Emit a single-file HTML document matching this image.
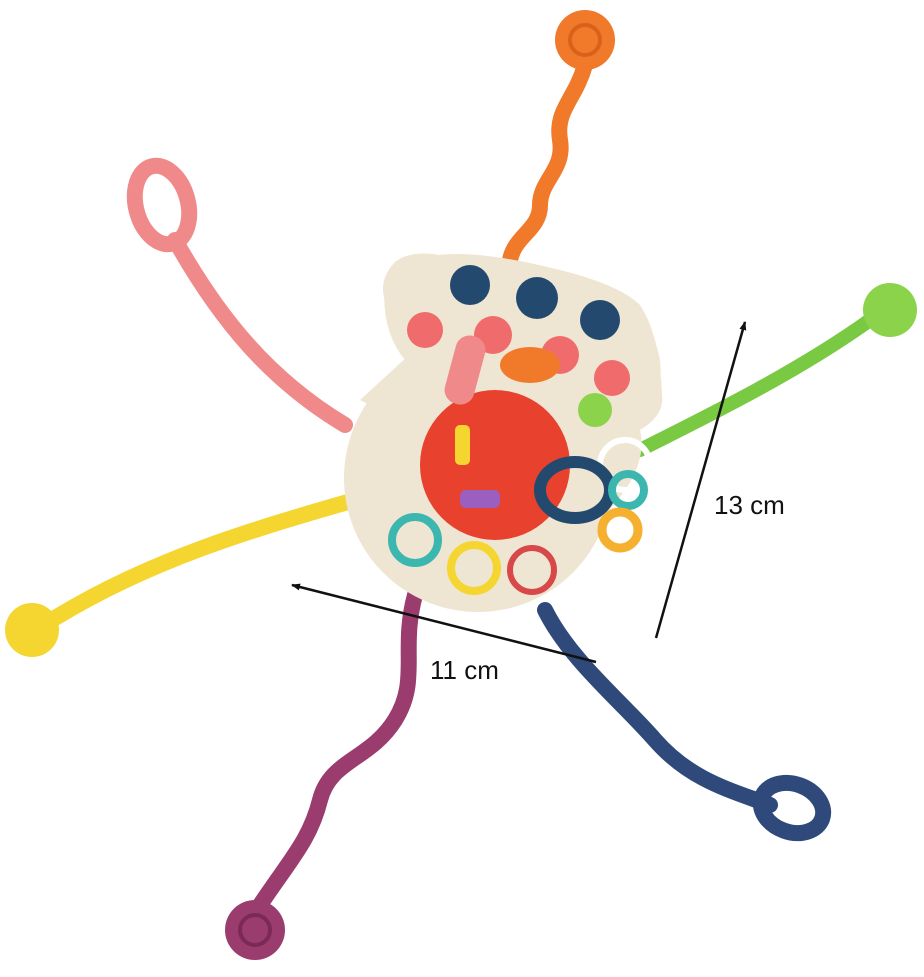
<!DOCTYPE html>
<html><head><meta charset="utf-8"><style>
html,body{margin:0;padding:0;background:#fff;width:924px;height:977px;overflow:hidden}
svg{display:block}
text{font-family:"Liberation Sans",sans-serif;font-size:26px;fill:#111}
</style></head><body>
<svg width="924" height="977" viewBox="0 0 924 977" xmlns="http://www.w3.org/2000/svg">
<defs>
<marker id="ah" markerWidth="9" markerHeight="7" refX="8" refY="3.5" orient="auto" markerUnits="userSpaceOnUse"><path d="M0,0 L9,3.5 L0,7 z" fill="#111"/></marker>
</defs>
<!-- orange strand -->
<path d="M585,65 C575,100 555,110 560,140 C565,170 540,180 540,205 C540,230 515,235 510,260" stroke="#f07a2a" stroke-width="16" fill="none" stroke-linecap="round"/>
<circle cx="585" cy="40" r="30" fill="#f07a2a"/><circle cx="585" cy="40" r="15" fill="none" stroke="#d9621a" stroke-width="4"/>
<!-- pink strand -->
<path d="M175,240 C220,320 270,380 345,425" stroke="#f08a8a" stroke-width="16" fill="none" stroke-linecap="round"/>
<ellipse cx="162" cy="205" rx="26" ry="40" fill="none" stroke="#f08a8a" stroke-width="16" transform="rotate(-15 162 205)"/>
<!-- green strand -->
<path d="M870,320 C800,370 720,410 640,450" stroke="#7ac943" stroke-width="14" fill="none" stroke-linecap="round"/>
<circle cx="890" cy="310" r="27" fill="#8bd34a"/>
<!-- yellow strand -->
<path d="M55,618 C150,560 250,530 355,500" stroke="#f5d630" stroke-width="16" fill="none" stroke-linecap="round"/>
<circle cx="32" cy="630" r="27" fill="#f5d630"/>
<!-- purple strand -->
<path d="M415,595 C400,650 420,680 395,720 C370,760 330,760 320,800 C310,840 290,860 260,905" stroke="#9a3c6e" stroke-width="16" fill="none" stroke-linecap="round"/>
<circle cx="255" cy="930" r="30" fill="#9a3c6e"/><circle cx="255" cy="930" r="15" fill="none" stroke="#7a2a55" stroke-width="4"/>
<!-- navy strand -->
<path d="M545,610 C570,660 620,700 655,740 C690,780 730,790 770,805" stroke="#2f4a7a" stroke-width="16" fill="none" stroke-linecap="round"/>
<ellipse cx="792" cy="808" rx="32" ry="24" fill="none" stroke="#2f4a7a" stroke-width="16" transform="rotate(20 792 808)"/>
<!-- body -->
<circle cx="478" cy="478" r="134" fill="#efe5d3"/>
<path d="M395,262 Q378,280 385,300 Q395,330 420,345 L360,400 L600,520 Q650,470 640,430 Q665,415 662,395 Q660,335 640,305 Q620,285 560,270 Q480,250 440,255 Q410,250 395,262 z" fill="#efe5d3"/>
<path d="M385,280 Q380,330 405,360 L620,440 Q665,420 660,360 Q650,310 620,295 Q560,262 470,255 Q410,250 385,280 z" fill="#efe5d3"/>
<circle cx="470" cy="285" r="20" fill="#234a6e"/><circle cx="537" cy="298" r="21" fill="#234a6e"/><circle cx="600" cy="320" r="20" fill="#234a6e"/>
<circle cx="425" cy="330" r="18" fill="#f06c6c"/><circle cx="493" cy="335" r="19" fill="#f06c6c"/><circle cx="560" cy="355" r="19" fill="#f06c6c"/><circle cx="612" cy="378" r="18" fill="#f06c6c"/>
<circle cx="495" cy="465" r="75" fill="#e8412d"/>
<rect x="450" y="335" width="30" height="70" rx="14" fill="#f08a8a" transform="rotate(15 465 370)"/>
<ellipse cx="530" cy="365" rx="30" ry="18" fill="#f07a2a"/>
<circle cx="595" cy="410" r="17" fill="#8bd34a"/>
<circle cx="625" cy="465" r="25" fill="none" stroke="#fff" stroke-width="6"/>
<ellipse cx="575" cy="490" rx="35" ry="28" fill="none" stroke="#234a6e" stroke-width="12"/>
<circle cx="628" cy="490" r="16" fill="none" stroke="#3bb7b0" stroke-width="8"/>
<circle cx="620" cy="530" r="18" fill="none" stroke="#f5b030" stroke-width="9"/>
<rect x="460" y="490" width="40" height="18" rx="6" fill="#9b5fc0"/>
<rect x="455" y="425" width="15" height="40" rx="5" fill="#f5d630"/>
<circle cx="415" cy="540" r="23" fill="none" stroke="#3bb7b0" stroke-width="8"/>
<circle cx="474" cy="568" r="23" fill="none" stroke="#f5d630" stroke-width="8"/>
<circle cx="532" cy="570" r="22" fill="none" stroke="#d94848" stroke-width="6"/>
<!-- arrows -->
<line x1="656" y1="638" x2="745" y2="322" stroke="#111" stroke-width="2.5" marker-end="url(#ah)"/>
<line x1="596" y1="662" x2="292" y2="585" stroke="#111" stroke-width="2.5" marker-end="url(#ah)"/>
<text x="714" y="514">13 cm</text>
<text x="430" y="679">11 cm</text>
</svg>
</body></html>
